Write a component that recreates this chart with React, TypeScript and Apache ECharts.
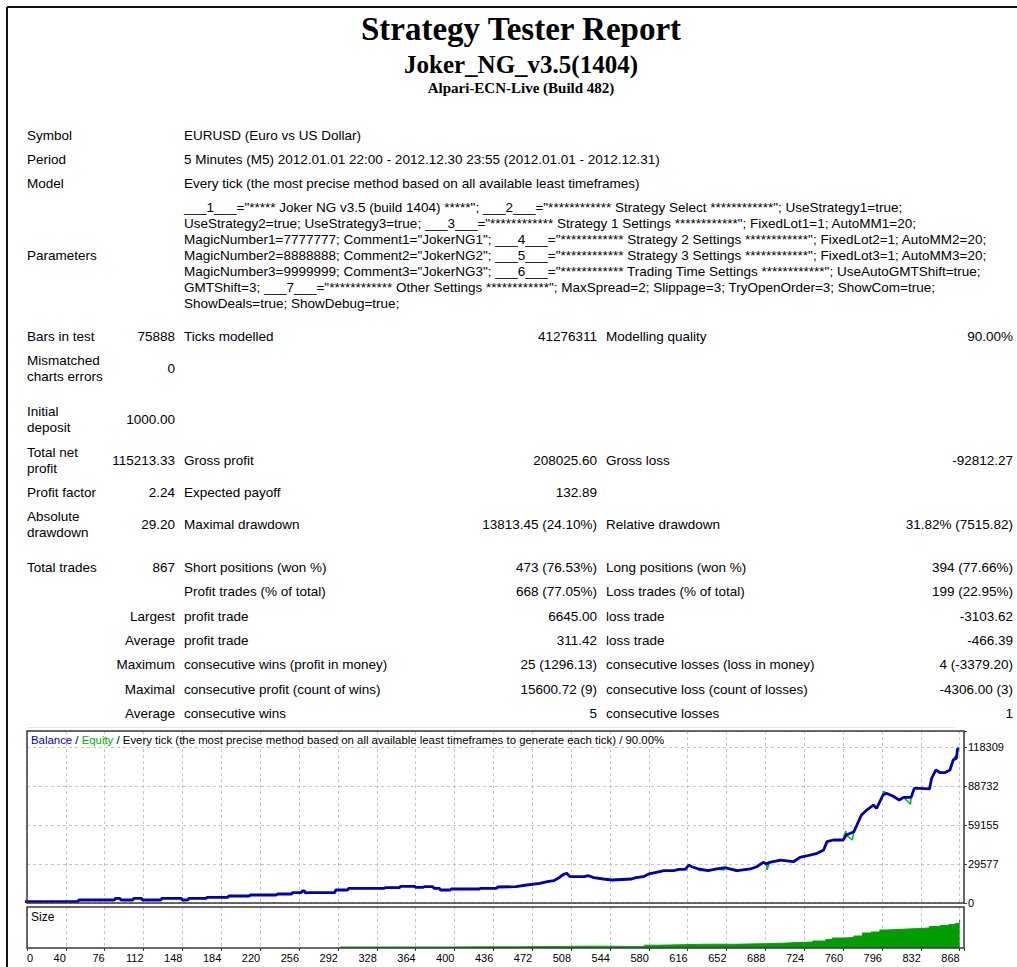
import React, { useEffect, useRef } from "react";
import * as echarts from "echarts";

// ---------- report texts ----------
const reportTitle = "Strategy Tester Report";
const expertName = "Joker_NG_v3.5(1404)";
const serverName = "Alpari-ECN-Live (Build 482)";

const infoLabels = ["Symbol", "Period", "Model", "Parameters"];
const infoValues = [
  "EURUSD (Euro vs US Dollar)",
  "5 Minutes (M5) 2012.01.01 22:00 - 2012.12.30 23:55 (2012.01.01 - 2012.12.31)",
  "Every tick (the most precise method based on all available least timeframes)",
];
const paramLines = [
  '___1___="***** Joker NG v3.5 (build 1404) *****"; ___2___="************ Strategy Select ************"; UseStrategy1=true;',
  'UseStrategy2=true; UseStrategy3=true; ___3___="************ Strategy 1 Settings ************"; FixedLot1=1; AutoMM1=20;',
  'MagicNumber1=7777777; Comment1="JokerNG1"; ___4___="************ Strategy 2 Settings ************"; FixedLot2=1; AutoMM2=20;',
  'MagicNumber2=8888888; Comment2="JokerNG2"; ___5___="************ Strategy 3 Settings ************"; FixedLot3=1; AutoMM3=20;',
  'MagicNumber3=9999999; Comment3="JokerNG3"; ___6___="************ Trading Time Settings ************"; UseAutoGMTShift=true;',
  'GMTShift=3; ___7___="************ Other Settings ************"; MaxSpread=2; Slippage=3; TryOpenOrder=3; ShowCom=true;',
  "ShowDeals=true; ShowDebug=true;",
];

// stats rows: [label1, value1, label2, value2, label3, value3]
const statRows: string[][] = [
  ["Bars in test", "75888", "Ticks modelled", "41276311", "Modelling quality", "90.00%"],
  ["Mismatched\ncharts errors", "0", "", "", "", ""],
  ["Initial\ndeposit", "1000.00", "", "", "", ""],
  ["Total net\nprofit", "115213.33", "Gross profit", "208025.60", "Gross loss", "-92812.27"],
  ["Profit factor", "2.24", "Expected payoff", "132.89", "", ""],
  ["Absolute\ndrawdown", "29.20", "Maximal drawdown", "13813.45 (24.10%)", "Relative drawdown", "31.82% (7515.82)"],
  ["Total trades", "867", "Short positions (won %)", "473 (76.53%)", "Long positions (won %)", "394 (77.66%)"],
  ["", "", "Profit trades (% of total)", "668 (77.05%)", "Loss trades (% of total)", "199 (22.95%)"],
  ["", "Largest", "profit trade", "6645.00", "loss trade", "-3103.62"],
  ["", "Average", "profit trade", "311.42", "loss trade", "-466.39"],
  ["", "Maximum", "consecutive wins (profit in money)", "25 (1296.13)", "consecutive losses (loss in money)", "4 (-3379.20)"],
  ["", "Maximal", "consecutive profit (count of wins)", "15600.72 (9)", "consecutive loss (count of losses)", "-4306.00 (3)"],
  ["", "Average", "consecutive wins", "5", "consecutive losses", "1"],
];
const statRowY = [336, 368, 419, 460, 492, 524, 567, 591, 616, 640, 664, 689, 713];

// ---------- chart data ----------
const balanceTrade = [
  0, 51, 52, 85, 86, 90, 91, 102, 103, 110, 111, 128, 129, 147, 148, 153, 154, 170, 171, 190,
  191, 210, 211, 235, 236, 249, 250, 258, 259, 261, 262, 266, 289, 290, 301, 302, 335, 336, 349, 350,
  363, 364, 371, 372, 380, 381, 386, 387, 396, 397, 423, 424, 439, 440, 457, 467, 479, 486, 492, 496,
  501, 504, 507, 520, 524, 529, 538, 546, 564, 568, 575, 580, 587, 594, 603, 608, 614, 617, 620, 626,
  635, 643, 651, 655, 662, 674, 680, 686, 689, 692, 702, 714, 720, 726, 736, 742, 745, 751, 760, 763,
  770, 773, 777, 782, 788, 791, 797, 800, 806, 812, 816, 823, 826, 831, 840, 842, 846, 850, 854, 859,
  862, 865, 866, 867,
];
const balanceValue = [
  1000, 1000, 2280, 2280, 3540, 3540, 2280, 2280, 3540, 3540, 2280, 2280, 3540, 3540, 2280, 2280, 3540, 3540, 4300, 4300,
  5310, 5310, 6070, 6070, 6830, 6830, 7840, 7840, 9100, 9100, 7600, 7840, 7840, 9860, 9860, 11125, 11125, 11630, 11630, 12640,
  12640, 11880, 11880, 12380, 12380, 11125, 11125, 9860, 9860, 10600, 10600, 11125, 11125, 12130, 12390, 13650, 14900, 16180, 16940, 18700,
  21760, 22500, 19950, 19950, 20700, 19200, 18200, 17440, 18200, 19200, 19950, 22000, 23260, 24500, 24500, 25530, 25530, 28800, 27530, 25800,
  24500, 25800, 26800, 25800, 24500, 25800, 27500, 30850, 29600, 30850, 32600, 31300, 34650, 35650, 37690, 40200, 46500, 47780, 47780, 51570,
  54100, 59500, 66740, 70530, 74300, 71800, 81900, 83200, 81100, 78100, 80100, 80100, 87000, 87000, 86500, 94570, 100900, 98800, 98800, 100900,
  108500, 109700, 117000, 116213,
];
// equity deviations from balance (floating drawdowns / peaks)
const equityTrade = [626.5, 649.5, 661.5, 689.5, 762.5, 768.5, 797.5, 822.5, 863.5, 866.5];
const equityValue = [24600, 25000, 23800, 25000, 54800, 47800, 84800, 74900, 111500, 118309];

const sizeTrade = [
  294, 300, 320, 340, 360, 380, 400, 420, 440, 460, 480, 500, 520, 540, 560, 576, 590, 600, 612, 624,
  636, 648, 660, 672, 684, 696, 708, 720, 732, 744, 750, 760, 770, 778, 786, 794, 800, 810, 820, 830,
  840, 850, 858, 864, 868,
];
const sizeLots = [
  1, 1, 1, 1, 1, 1, 1.2, 1.2, 1.2, 1.4, 1.5, 1.8, 1.8, 1.6, 1.6, 2.8, 3.0, 3.3, 3.6, 3.8,
  3.8, 3.7, 4.0, 4.2, 4.5, 5.0, 5.5, 6.0, 7.0, 8.5, 10, 10.5, 12, 15, 16, 18, 18.5, 19, 19.5, 20,
  21.5, 22.5, 23.5, 24.5, 28,
];

const maxEquity = 118309;
const yStep = maxEquity / 4;
const xFirstTick = 4;
const xStep = 36;
const xLastTick = 868;

const SANS = "'Liberation Sans', Arial, sans-serif";
const SERIF = "'Liberation Serif', 'Times New Roman', serif";

export default function App() {
  const ref = useRef<HTMLDivElement>(null);

  useEffect(() => {
    if (!ref.current) return;
    const chart = echarts.init(ref.current, undefined, { renderer: "svg" });

    const balanceData = balanceTrade.map((t, i) => [t, balanceValue[i]]);
    const equityData = balanceData
      .concat(equityTrade.map((t, i) => [t, equityValue[i]]))
      .sort((a, b) => a[0] - b[0]);
    const sizeData = sizeTrade.map((t, i) => [t, sizeLots[i]]);

    const graphics: any[] = [];
    const txt = (text: string, x: number, y: number, opts: any = {}) => {
      graphics.push({
        type: "text",
        x,
        y,
        silent: true,
        style: {
          text,
          fill: "#000",
          fontFamily: SANS,
          fontSize: 13.5,
          align: "left",
          verticalAlign: "middle",
          lineHeight: 16,
          ...opts,
        },
      });
    };

    // page frame
    graphics.push({ type: "line", shape: { x1: 7, y1: 7, x2: 1017, y2: 7 }, style: { stroke: "#111", lineWidth: 2 } });
    graphics.push({ type: "line", shape: { x1: 7, y1: 7, x2: 7, y2: 967 }, style: { stroke: "#111", lineWidth: 2 } });
    graphics.push({ type: "line", shape: { x1: 27, y1: 727.5, x2: 955, y2: 727.5 }, style: { stroke: "#e6e6e6", lineWidth: 1 } });

    // chart panel frames (drawn above the grid lines)
    graphics.push({
      type: "rect",
      z: 100,
      silent: true,
      shape: { x: 27, y: 731, width: 937, height: 172 },
      style: { fill: "none", stroke: "#3a3a3a", lineWidth: 1.5 },
    });
    graphics.push({
      type: "rect",
      z: 100,
      silent: true,
      shape: { x: 27, y: 907, width: 937, height: 41 },
      style: { fill: "none", stroke: "#3a3a3a", lineWidth: 1.5 },
    });

    // headings
    txt(reportTitle, 521, 29, { fontFamily: SERIF, fontWeight: "bold", fontSize: 33, align: "center" });
    txt(expertName, 521, 64, { fontFamily: SERIF, fontWeight: "bold", fontSize: 25, align: "center" });
    txt(serverName, 521, 88, { fontFamily: SERIF, fontWeight: "bold", fontSize: 15, align: "center" });

    // info block
    const infoY = [135, 159, 183, 255];
    infoLabels.forEach((l, i) => txt(l, 27, infoY[i]));
    infoValues.forEach((v, i) => txt(v, 184, infoY[i]));
    paramLines.forEach((p, i) => txt(p, 184, 207 + 16 * i));

    // stats block
    const colX = [27, 175, 184, 597, 606, 1013];
    const colAlign = ["left", "right", "left", "right", "left", "right"];
    statRows.forEach((row, r) => {
      row.forEach((cell, c) => {
        if (cell) txt(cell, colX[c], statRowY[r], { align: colAlign[c] });
      });
    });

    const gridSplit = { show: true, lineStyle: { color: "#c4c4c4", type: [3, 3], width: 1 } };

    chart.setOption({
      animation: false,
      backgroundColor: "#fff",
      title: [
        {
          text: "{b|Balance} / {g|Equity} / Every tick (the most precise method based on all available least timeframes to generate each tick) / 90.00%",
          left: 31,
          top: 734,
          padding: 0,
          textStyle: {
            fontFamily: SANS,
            fontSize: 11.4,
            fontWeight: "normal",
            color: "#000",
            rich: {
              b: { color: "#0000c8", fontFamily: SANS, fontSize: 11.4 },
              g: { color: "#00b000", fontFamily: SANS, fontSize: 11.4 },
            },
          },
        },
        {
          text: "Size",
          left: 31,
          top: 911,
          padding: 0,
          textStyle: { fontFamily: SANS, fontSize: 12, fontWeight: "normal", color: "#000" },
        },
      ],
      grid: [
        { left: 27, top: 731, width: 937, height: 172, show: true, borderWidth: 0, backgroundColor: "#fff" },
        { left: 27, top: 907, width: 937, height: 41, show: true, borderWidth: 0, backgroundColor: "#fff" },
      ],
      xAxis: [
        {
          gridIndex: 0,
          type: "value",
          min: xFirstTick,
          max: 872,
          interval: xStep,
          axisLine: { show: false },
          axisTick: { show: false },
          axisLabel: { show: false },
          splitLine: gridSplit,
        },
        {
          gridIndex: 1,
          type: "value",
          min: xFirstTick,
          max: 872,
          interval: xStep,
          axisLine: { show: false },
          axisTick: { show: true, length: 3, lineStyle: { color: "#3a3a3a" } },
          axisLabel: {
            show: true,
            fontFamily: SANS,
            fontSize: 11,
            color: "#000",
            margin: 4,
            align: "right",
            alignMinLabel: "left",
            formatter: (v: number) => (v === xFirstTick ? "0" : v > xLastTick ? "" : String(v)),
          },
          splitLine: gridSplit,
        },
      ],
      yAxis: [
        {
          gridIndex: 0,
          type: "value",
          position: "right",
          min: 0,
          max: 130441,
          interval: yStep,
          axisLine: { show: false },
          axisTick: { show: true, length: 3, lineStyle: { color: "#3a3a3a" } },
          axisLabel: {
            fontFamily: SANS,
            fontSize: 11,
            color: "#000",
            margin: 4,
            formatter: (v: number) => (v > maxEquity + 1 ? "" : String(Math.round(v))),
          },
          splitLine: gridSplit,
        },
        {
          gridIndex: 1,
          type: "value",
          min: 0,
          max: 41,
          show: false,
          splitLine: { show: false },
        },
      ],
      series: [
        {
          name: "Equity",
          type: "line",
          xAxisIndex: 0,
          yAxisIndex: 0,
          data: equityData,
          symbol: "none",
          lineStyle: { color: "#00c000", width: 1.5 },
          itemStyle: { color: "#00c000" },
          z: 2,
        },
        {
          name: "Balance",
          type: "line",
          xAxisIndex: 0,
          yAxisIndex: 0,
          data: balanceData,
          symbol: "none",
          lineStyle: { color: "#0000b4", width: 2.8 },
          itemStyle: { color: "#0000b4" },
          z: 3,
        },
        {
          name: "Size",
          type: "line",
          xAxisIndex: 1,
          yAxisIndex: 1,
          step: "end",
          data: sizeData,
          symbol: "none",
          lineStyle: { color: "#00a800", width: 1 },
          areaStyle: { color: "#009c00", opacity: 1 },
          itemStyle: { color: "#00a800" },
        },
      ],
      graphic: graphics,
    });

    return () => chart.dispose();
  }, []);

  return (
    <div
      ref={ref}
      style={{ position: "absolute", left: 0, top: 0, width: 1017, height: 967, background: "#fff" }}
    />
  );
}
